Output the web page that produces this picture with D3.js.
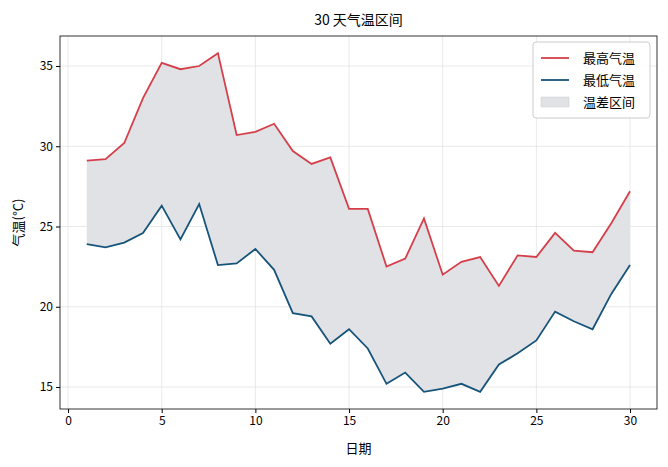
<!DOCTYPE html>
<html><head><meta charset="utf-8">
<script src="https://cdn.jsdelivr.net/npm/d3@7"></script>
<style>body{margin:0;background:#fff;font-family:"Noto Sans CJK SC","Noto Sans",sans-serif;}</style>
</head><body><svg id="c" width="668" height="467"></svg>
<script>
const days = d3.range(1, 31);
const highs = [29.1,29.2,30.2,33.0,35.2,34.8,35.0,35.8,30.7,30.9,31.4,29.7,28.9,29.3,26.1,26.1,22.5,23.0,25.5,22.0,22.8,23.1,21.3,23.2,23.1,24.6,23.5,23.4,25.2,27.2];
const lows = [23.9,23.7,24.0,24.6,26.3,24.2,26.4,22.6,22.7,23.6,22.3,19.6,19.4,17.7,18.6,17.4,15.2,15.9,14.7,14.9,15.2,14.7,16.4,17.1,17.9,19.7,19.1,18.6,20.8,22.6];
const xTicks = [0,5,10,15,20,25,30];
const yTicks = [15,20,25,30,35];

const svg = d3.select('#c');
const L = 60, R = 657, T = 36, B = 409;
const x = d3.scaleLinear().domain([-0.43, 31.44]).range([L, R]);
const y = d3.scaleLinear().domain([13.63, 36.87]).range([B, T]);

// grid
svg.append('g').selectAll('line').data(xTicks).enter().append('line')
  .attr('x1', d => x(d)).attr('x2', d => x(d)).attr('y1', T).attr('y2', B)
  .attr('stroke', '#e3e3e3').attr('stroke-width', 0.8);
svg.append('g').selectAll('line').data(yTicks).enter().append('line')
  .attr('x1', L).attr('x2', R).attr('y1', d => y(d)).attr('y2', d => y(d))
  .attr('stroke', '#e3e3e3').attr('stroke-width', 0.8);

// band
const data = days.map((d, i) => ({d, hi: highs[i], lo: lows[i]}));
svg.append('path').datum(data)
  .attr('d', d3.area().x(p => x(p.d)).y0(p => y(p.lo)).y1(p => y(p.hi)))
  .attr('fill', '#e1e2e6');
svg.append('path').datum(data)
  .attr('d', d3.line().x(p => x(p.d)).y(p => y(p.hi)))
  .attr('fill', 'none').attr('stroke', '#d43f4a').attr('stroke-width', 1.8);
svg.append('path').datum(data)
  .attr('d', d3.line().x(p => x(p.d)).y(p => y(p.lo)))
  .attr('fill', 'none').attr('stroke', '#17547a').attr('stroke-width', 1.8);

// axes
const xa = svg.append('g').attr('transform', `translate(0,${B})`)
  .call(d3.axisBottom(x).tickValues(xTicks).tickSize(4).tickPadding(3));
const ya = svg.append('g').attr('transform', `translate(${L},0)`)
  .call(d3.axisLeft(y).tickValues(yTicks).tickSize(4).tickPadding(3));
[xa, ya].forEach(a => {
  a.select('.domain').remove();
  a.selectAll('text').attr('font-size', 12).attr('fill', '#000').attr('font-family', '"Noto Sans CJK SC"');
  a.selectAll('line').attr('stroke', '#000');
});
svg.append('rect').attr('x', L).attr('y', T).attr('width', R - L).attr('height', B - T)
  .attr('fill', 'none').attr('stroke', '#000').attr('stroke-width', 0.8);

svg.append('text').attr('x', (L + R) / 2).attr('y', 25).attr('text-anchor', 'middle')
  .attr('font-size', 14).text('30 天气温区间');
svg.append('text').attr('x', (L + R) / 2).attr('y', 453).attr('text-anchor', 'middle')
  .attr('font-size', 13).text('日期');
svg.append('text').attr('transform', `translate(23,${(T + B) / 2}) rotate(-90)`)
  .attr('text-anchor', 'middle').attr('font-size', 13).text('气温(°C)');

// legend
const lg = svg.append('g').attr('transform', 'translate(533,42)');
lg.append('rect').attr('width', 117).attr('height', 76).attr('rx', 3)
  .attr('fill', '#fff').attr('fill-opacity', 0.85).attr('stroke', '#ccc');
const items = [['最高气温', '#d43f4a', 'line'], ['最低气温', '#17547a', 'line'], ['温差区间', '#e1e2e6', 'rect']];
items.forEach((it, i) => {
  const g = lg.append('g').attr('transform', `translate(8,${16 + i * 22})`);
  if (it[2] === 'line') g.append('line').attr('x1', 0).attr('x2', 28).attr('stroke', it[1]).attr('stroke-width', 1.8);
  else g.append('rect').attr('y', -5).attr('width', 28).attr('height', 10).attr('fill', it[1]).attr('stroke', '#ccc').attr('stroke-width', 0.5);
  g.append('text').attr('x', 42).attr('y', 5).attr('font-size', 13).text(it[0]);
});
</script></body></html>
